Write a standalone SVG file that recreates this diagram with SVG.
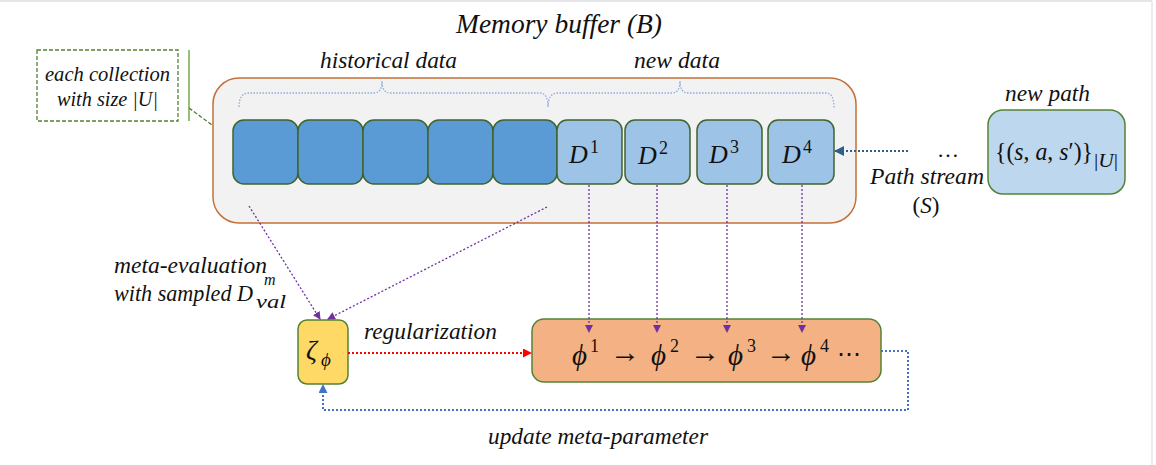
<svg xmlns="http://www.w3.org/2000/svg" width="1156" height="465" viewBox="0 0 1156 465">
<defs>
<style>
.it{font-family:"Liberation Serif","DejaVu Serif",serif;font-style:italic;fill:#111}
.m{font-family:"Liberation Serif","DejaVu Serif",serif;fill:#111}
.blk{fill:#5b9bd5;stroke:#41632c;stroke-width:1.5}
.nd{fill:#9dc3e6;stroke:#41632c;stroke-width:1.5}
.br{fill:none;stroke:#8faadc;stroke-width:1.3;stroke-dasharray:1.5 1.5}
.pu{fill:none;stroke:#7030a0;stroke-width:1.3;stroke-dasharray:2 2}
</style>
<marker id="ap" markerWidth="8" markerHeight="8" refX="7" refY="4" orient="auto" markerUnits="userSpaceOnUse"><path d="M0,0 L8,4 L0,8 z" fill="#7030a0"/></marker>
<marker id="ar" markerWidth="9" markerHeight="9" refX="8" refY="4.5" orient="auto" markerUnits="userSpaceOnUse"><path d="M0,0 L9,4.5 L0,9 z" fill="#ff0000"/></marker>
<marker id="ab" markerWidth="9" markerHeight="9" refX="8" refY="4.5" orient="auto" markerUnits="userSpaceOnUse"><path d="M0,0 L9,4.5 L0,9 z" fill="#4472c4"/></marker>
<marker id="ad" markerWidth="10" markerHeight="10" refX="9" refY="5" orient="auto" markerUnits="userSpaceOnUse"><path d="M0,0 L10,5 L0,10 z" fill="#2e5f8a"/></marker>
</defs>
<rect width="1156" height="465" fill="#ffffff"/>
<line x1="0" y1="1" x2="1152" y2="1" stroke="#dddddd" stroke-width="1.5"/>
<line x1="1152" y1="1" x2="1152" y2="465" stroke="#e6e6e6" stroke-width="1.5"/>

<text class="it" x="456" y="33" font-size="27" textLength="206" lengthAdjust="spacingAndGlyphs">Memory buffer (B)</text>

<g id="note">
<rect x="37" y="50" width="141" height="71" fill="none" stroke="#548235" stroke-width="1.3" stroke-dasharray="4 2"/>
<text class="it" x="45" y="81" font-size="21" textLength="125" lengthAdjust="spacingAndGlyphs">each collection</text>
<text class="it" x="57" y="106" font-size="21" textLength="101" lengthAdjust="spacingAndGlyphs">with size |U|</text>
<line x1="189" y1="50" x2="189" y2="121" stroke="#70ad47" stroke-width="1.5"/>
<line x1="189" y1="108" x2="250" y2="153" stroke="#548235" stroke-width="1.3" stroke-dasharray="4 2"/>
</g>

<g id="buffer">
<rect x="213" y="78" width="643" height="145" rx="26" fill="#f2f2f2" stroke="#c5703a" stroke-width="1.5"/>
<path class="br" d="M239,107 Q239,93 249,93 L374,93 Q382,93 382,81 Q382,93 390,93 L540,93 Q548,93 548,107"/>
<path class="br" d="M548,107 Q548,93 558,93 L672,93 Q680,93 680,81 Q680,93 688,93 L826,93 Q834,93 834,108"/>
<text class="it" x="320" y="68" font-size="23" textLength="137" lengthAdjust="spacingAndGlyphs">historical data</text>
<text class="it" x="634" y="68" font-size="23" textLength="86" lengthAdjust="spacingAndGlyphs">new data</text>
</g>

<g id="h1"><rect class="blk" x="233" y="120" width="65" height="64" rx="11"/></g>
<g id="h2"><rect class="blk" x="298" y="120" width="65" height="64" rx="11"/></g>
<g id="h3"><rect class="blk" x="363" y="120" width="65" height="64" rx="11"/></g>
<g id="h4"><rect class="blk" x="428" y="120" width="65" height="64" rx="11"/></g>
<g id="h5"><rect class="blk" x="493" y="120" width="64" height="64" rx="11"/></g>
<g id="D1"><rect class="nd" x="557" y="120" width="65" height="64" rx="10"/>
<text class="it" x="569" y="163" font-size="26">D</text><text class="m" x="590" y="153" font-size="18">1</text></g>
<g id="D2"><rect class="nd" x="625" y="120" width="65" height="64" rx="10"/>
<text class="it" x="638" y="164" font-size="26">D</text><text class="m" x="659" y="154" font-size="18">2</text></g>
<g id="D3"><rect class="nd" x="697" y="120" width="65" height="64" rx="10"/>
<text class="it" x="709" y="163" font-size="26">D</text><text class="m" x="730" y="153" font-size="18">3</text></g>
<g id="D4"><rect class="nd" x="768" y="120" width="66" height="64" rx="10"/>
<text class="it" x="782" y="163" font-size="26">D</text><text class="m" x="803" y="153" font-size="18">4</text></g>

<g id="newpath">
<rect x="988" y="110" width="137" height="84" rx="15" fill="#bdd7ee" stroke="#548235" stroke-width="1.5"/>
<text class="it" x="1005" y="101" font-size="23" textLength="85" lengthAdjust="spacingAndGlyphs">new path</text>
<text class="m" x="995" y="160" font-size="25" textLength="98" lengthAdjust="spacingAndGlyphs">{(<tspan font-style="italic">s</tspan>, <tspan font-style="italic">a</tspan>, <tspan font-style="italic">s</tspan>′)}</text>
<text class="m" x="1094" y="167" font-size="18" textLength="24" lengthAdjust="spacingAndGlyphs">|<tspan font-style="italic">U</tspan>|</text>
</g>

<g id="stream">
<text class="m" x="948" y="157" font-size="22" text-anchor="middle">…</text>
<text class="it" x="870" y="184" font-size="23" textLength="114" lengthAdjust="spacingAndGlyphs">Path stream</text>
<text class="m" x="926" y="213" font-size="23" text-anchor="middle">(<tspan font-style="italic">S</tspan>)</text>
</g>

<g id="zeta">
<rect x="298" y="320" width="50" height="64" rx="9" fill="#ffd966" stroke="#548235" stroke-width="1.5"/>
<text class="it" x="306" y="359" font-size="27">ζ</text>
<text class="it" x="321" y="366" font-size="19">ϕ</text>
</g>

<g id="phi">
<rect x="532" y="319" width="349" height="63" rx="12" fill="#f4b183" stroke="#548235" stroke-width="1.5"/>
<text class="it" x="572" y="365" font-size="29">ϕ</text><text class="m" x="590" y="352" font-size="18">1</text>
<text class="m" x="610" y="362" font-size="30">→</text>
<text class="it" x="651" y="365" font-size="29">ϕ</text><text class="m" x="670" y="352" font-size="18">2</text>
<text class="m" x="690" y="362" font-size="30">→</text>
<text class="it" x="728" y="365" font-size="29">ϕ</text><text class="m" x="747" y="352" font-size="18">3</text>
<text class="m" x="766" y="362" font-size="30">→</text>
<text class="it" x="801" y="365" font-size="29">ϕ</text><text class="m" x="820" y="352" font-size="18">4</text>
<text class="m" x="837" y="362" font-size="24">⋯</text>
</g>

<g id="labels">
<text class="it" x="114" y="273" font-size="23" textLength="153" lengthAdjust="spacingAndGlyphs">meta-evaluation</text>
<text class="it" x="114" y="301" font-size="23" textLength="139" lengthAdjust="spacingAndGlyphs">with sampled D</text>
<text class="it" x="264" y="285" font-size="16">m</text>
<text class="it" x="256" y="308" font-size="19" textLength="30" lengthAdjust="spacingAndGlyphs">val</text>
<text class="it" x="364" y="339" font-size="23" textLength="133" lengthAdjust="spacingAndGlyphs">regularization</text>
<text class="it" x="488" y="444" font-size="23" textLength="220" lengthAdjust="spacingAndGlyphs">update meta-parameter</text>
</g>

<g id="connectors">
<line class="pu" x1="249" y1="206" x2="320" y2="319" marker-end="url(#ap)"/>
<line class="pu" x1="547" y1="207" x2="328" y2="319" marker-end="url(#ap)"/>
<line class="pu" x1="589" y1="185" x2="589" y2="332" marker-end="url(#ap)"/>
<line class="pu" x1="657" y1="185" x2="657" y2="332" marker-end="url(#ap)"/>
<line class="pu" x1="727" y1="185" x2="727" y2="332" marker-end="url(#ap)"/>
<line class="pu" x1="802" y1="185" x2="802" y2="332" marker-end="url(#ap)"/>
<line x1="348" y1="353" x2="531" y2="353" stroke="#ff0000" stroke-width="2" stroke-dasharray="2 2" marker-end="url(#ar)"/>
<polyline points="881,351 908,351 908,410 323,410 323,385" fill="none" stroke="#4472c4" stroke-width="2" stroke-dasharray="2 2" marker-end="url(#ab)"/>
<line x1="908" y1="151" x2="835" y2="151" stroke="#2e5f8a" stroke-width="2.2" stroke-dasharray="2 2" marker-end="url(#ad)"/>
</g>
</svg>
